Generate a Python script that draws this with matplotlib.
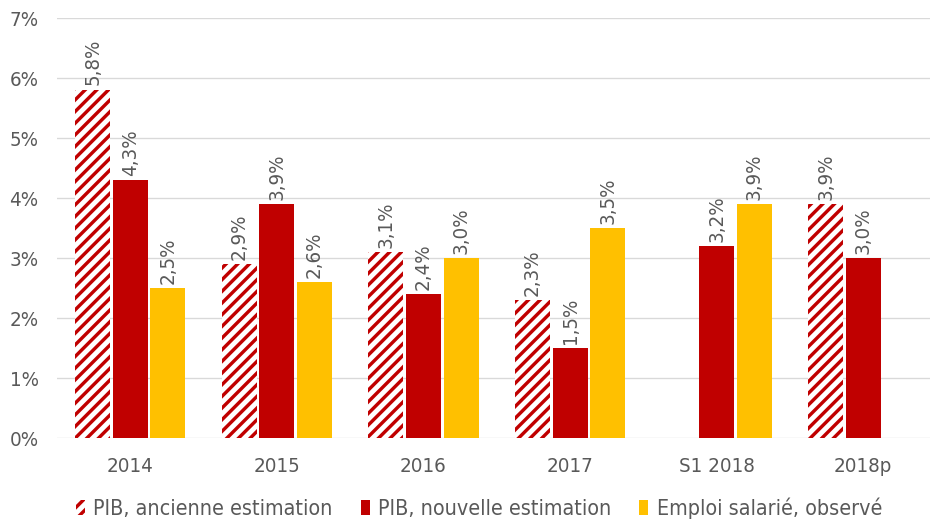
import numpy as np
import matplotlib
matplotlib.use("Agg")
import matplotlib.pyplot as plt
from matplotlib.ticker import FuncFormatter

# données (en %)
categories = ["2014", "2015", "2016", "2017", "S1 2018", "2018p"]
pib_ancienne = [5.8, 2.9, 3.1, 2.3, np.nan, 3.9]
pib_nouvelle = [4.3, 3.9, 2.4, 1.5, 3.2, 3.0]
emploi_salarie = [2.5, 2.6, 3.0, 3.5, 3.9, np.nan]
series_names = ["PIB, ancienne estimation", "PIB, nouvelle estimation", "Emploi salarié, observé"]

ROUGE = "#C00000"
JAUNE = "#FFC000"
GRIS = "#595959"

DPI = 70  # la densité des hachures suit le dpi
plt.rcParams["font.family"] = ["DejaVu Sans"]
plt.rcParams["font.stretch"] = "condensed"
plt.rcParams["hatch.linewidth"] = 3.5
plt.rcParams["text.color"] = GRIS

fig = plt.figure(figsize=(930 / DPI, 524 / DPI), dpi=DPI)
ax = fig.add_axes([57 / 930, 0.1632, 1 - 57 / 930, 0.8019])

x = np.arange(len(categories))
w = 0.239
step = 0.256
fs = 21

b1 = ax.bar(x - step, pib_ancienne, w, color="white", edgecolor=ROUGE,
            linewidth=0, hatch="//", label=series_names[0], zorder=3)
b2 = ax.bar(x, pib_nouvelle, w, color=ROUGE, label=series_names[1], zorder=3)
b3 = ax.bar(x + step, emploi_salarie, w, color=JAUNE, label=series_names[2], zorder=3)

def etiquettes(vals):
    return ["" if np.isnan(v) else f"{v:.1f}%".replace(".", ",") for v in vals]

for bars, vals in [(b1, pib_ancienne), (b2, pib_nouvelle), (b3, emploi_salarie)]:
    ax.bar_label(bars, labels=etiquettes(vals), rotation=90, padding=5,
                 fontsize=fs, color=GRIS)

ax.set_xlim(-0.5, 5.455)
ax.set_ylim(0, 7)
ax.set_yticks(range(8))
ax.yaxis.set_major_formatter(FuncFormatter(lambda v, p: f"{int(v)}%"))
ax.set_xticks(x)
ax.set_xticklabels(categories)
ax.tick_params(axis="y", length=0, pad=19, labelsize=fs, labelcolor=GRIS)
ax.tick_params(axis="x", length=0, pad=19, labelsize=fs, labelcolor=GRIS)
ax.grid(axis="y", color="#D9D9D9", linewidth=1.4, zorder=0)
ax.set_axisbelow(True)
for s in ax.spines.values():
    s.set_visible(False)

fig.legend(loc="center", bbox_to_anchor=(479 / 930, 1 - 508 / 524), ncol=3,
           frameon=False, fontsize=22, handlelength=0.42, handleheight=0.7,
           handletextpad=0.4, columnspacing=1.3, labelcolor=GRIS)

fig.savefig("out.png", dpi=DPI)
